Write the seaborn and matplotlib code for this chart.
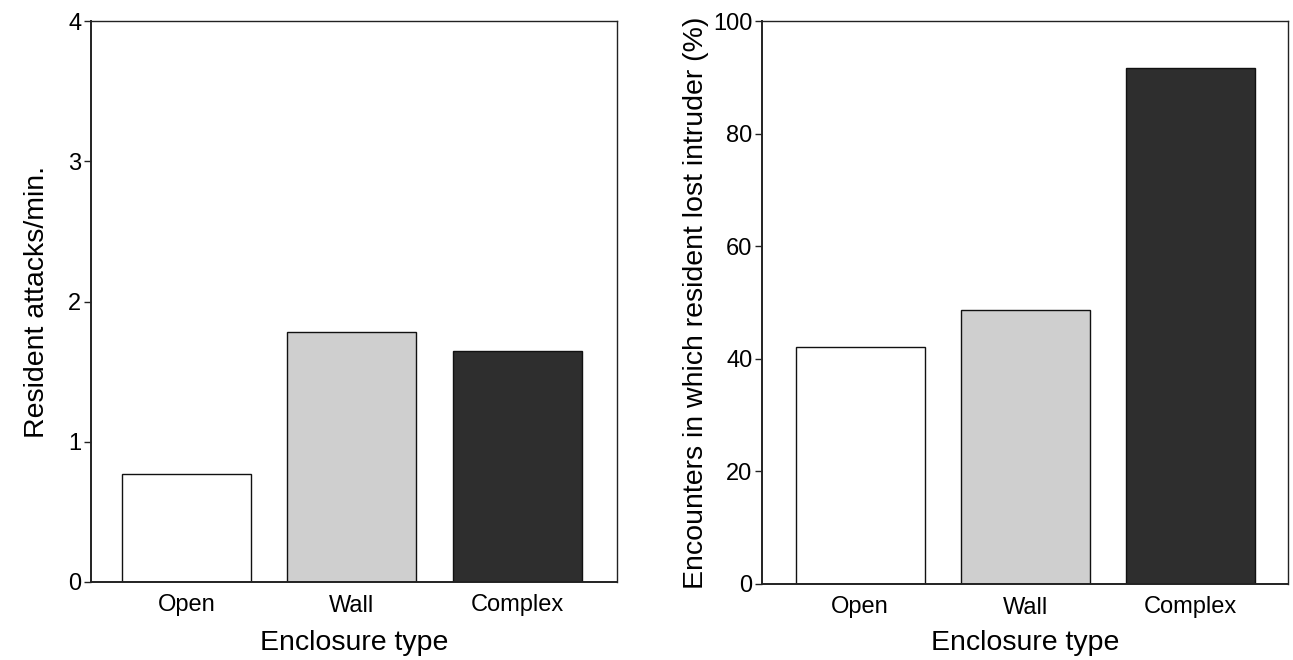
import matplotlib
matplotlib.use("Agg")
import matplotlib.pyplot as plt
import seaborn as sns
import pandas as pd

categories = ["Open", "Wall", "Complex"]
attacks_per_min = [0.77, 1.78, 1.65]
lost_intruder_pct = [42.1, 48.7, 91.6]
bar_colors = ["#ffffff", "#cfcfcf", "#2e2e2e"]

left_ticks = [0, 1, 2, 3, 4]
right_ticks = [0, 20, 40, 60, 80, 100]

sns.set_theme(style="white")
plt.rcParams["font.family"] = ["Liberation Sans", "DejaVu Sans"]
plt.rcParams["text.color"] = "black"
plt.rcParams["axes.labelcolor"] = "black"
plt.rcParams["xtick.color"] = "black"
plt.rcParams["ytick.color"] = "black"

fig = plt.figure(figsize=(12.93, 6.60), dpi=100)
W, H = 1293, 660
ax1 = fig.add_axes([91 / W, (H - 582) / H, 526 / W, 561 / H])
ax2 = fig.add_axes([762 / W, (H - 584) / H, 526 / W, 563 / H])

df1 = pd.DataFrame({"cat": categories, "val": attacks_per_min})
df2 = pd.DataFrame({"cat": categories, "val": lost_intruder_pct})
pal = dict(zip(categories, bar_colors))

for ax, df in ((ax1, df1), (ax2, df2)):
    sns.barplot(data=df, x="cat", y="val", hue="cat", palette=pal, order=categories,
                hue_order=categories, legend=False, width=0.78, saturation=1,
                edgecolor="#111111", linewidth=1.0, ax=ax)
    for s in ax.spines.values():
        s.set_visible(True)
        s.set_color("#222222")
        s.set_linewidth(1.0)
    ax.spines["left"].set_linewidth(1.4)
    ax.spines["bottom"].set_linewidth(1.4)
    ax.tick_params(axis="y", which="both", left=True, length=5, width=1,
                   color="#222222", labelsize=17, pad=2, labelcolor="black")
    ax.tick_params(axis="x", bottom=False, labelsize=17, pad=3, labelcolor="black")
    ax.grid(False)

ax1.set_xlabel("Enclosure type", fontsize=20.5, labelpad=10, color="black")
ax2.set_xlabel("Enclosure type", fontsize=20.5, labelpad=8, color="black")

ax1.set_xlim(-0.577, 2.604)
ax1.set_ylim(0, 4)
ax1.set_yticks(left_ticks)
ax1.set_ylabel("Resident attacks/min.", fontsize=20.5, labelpad=13, color="black")

ax2.set_xlim(-0.594, 2.59)
ax2.set_ylim(0, 100)
ax2.set_yticks(right_ticks)
ax2.set_ylabel("Encounters in which resident lost intruder (%)", fontsize=20.5,
               labelpad=3, color="black")

fig.savefig("out.png", dpi=100, facecolor="white")
